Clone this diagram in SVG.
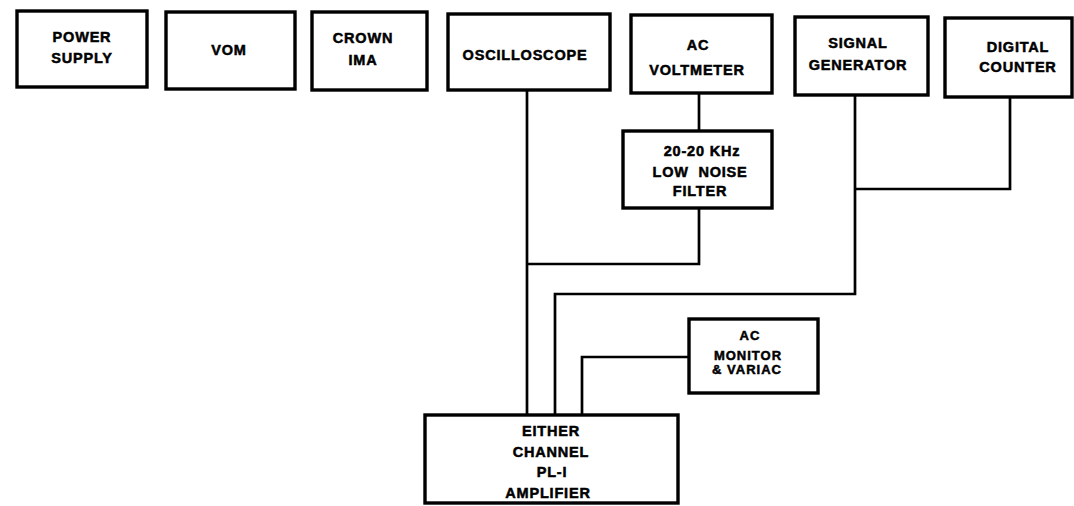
<svg xmlns="http://www.w3.org/2000/svg" width="1074" height="506" viewBox="0 0 1074 506">
<style>
.box{fill:#fff;stroke:#000;stroke-width:3.4}
.ln{fill:none;stroke:#000;stroke-width:2.7;stroke-linejoin:miter}
text{font-family:"Liberation Sans",Arial,sans-serif;font-weight:bold;font-size:14.5px;fill:#000;stroke:#000;stroke-width:0.5;text-anchor:middle;letter-spacing:0.8px;white-space:pre}
.sm{font-size:13px;letter-spacing:1px}
</style>
<rect width="1074" height="506" fill="#fff"/>
<g id="connectors">
<polyline class="ln" points="527,90 527,415"/>
<polyline class="ln" points="699,93 699,131"/>
<polyline class="ln" points="699,208 699,264 527,264"/>
<polyline class="ln" points="1010,97 1010,189 855,189"/>
<polyline class="ln" points="855,95 855,294 555,294 555,415"/>
<polyline class="ln" points="689,357 582,357 582,415"/>
</g>
<g id="power-supply"><rect class="box" x="17" y="11" width="130" height="76"/><text x="82" y="42">POWER</text><text x="82" y="63">SUPPLY</text></g>
<g id="vom"><rect class="box" x="166" y="12" width="129" height="77"/><text x="229" y="55">VOM</text></g>
<g id="crown-ima"><rect class="box" x="312" y="12" width="115" height="78"/><text x="363" y="43">CROWN</text><text x="363" y="65">IMA</text></g>
<g id="oscilloscope"><rect class="box" x="448" y="14" width="162" height="76"/><text x="525" y="60">OSCILLOSCOPE</text></g>
<g id="ac-voltmeter"><rect class="box" x="631" y="15" width="141" height="78"/><text x="698" y="50">AC</text><text x="697" y="75">VOLTMETER</text></g>
<g id="signal-generator"><rect class="box" x="795" y="17" width="133" height="78"/><text x="858" y="48">SIGNAL</text><text x="858" y="70">GENERATOR</text></g>
<g id="digital-counter"><rect class="box" x="945" y="18" width="127" height="79"/><text x="1018" y="52">DIGITAL</text><text x="1018" y="72">COUNTER</text></g>
<g id="low-noise-filter"><rect class="box" x="623" y="131" width="149" height="77"/><text x="702" y="156">20-20 KHz</text><text x="700" y="177">LOW  NOISE</text><text x="700" y="196">FILTER</text></g>
<g id="ac-monitor-variac"><rect class="box" x="689" y="319" width="129" height="74"/><text class="sm" x="750" y="340">AC</text><text class="sm" x="748" y="360">MONITOR</text><text class="sm" x="747" y="374">&amp; VARIAC</text></g>
<g id="amplifier"><rect class="box" x="425" y="415" width="253" height="88"/><text x="551" y="436">EITHER</text><text x="551" y="457">CHANNEL</text><text x="552" y="477">PL-I</text><text x="548" y="498">AMPLIFIER</text></g>
</svg>
